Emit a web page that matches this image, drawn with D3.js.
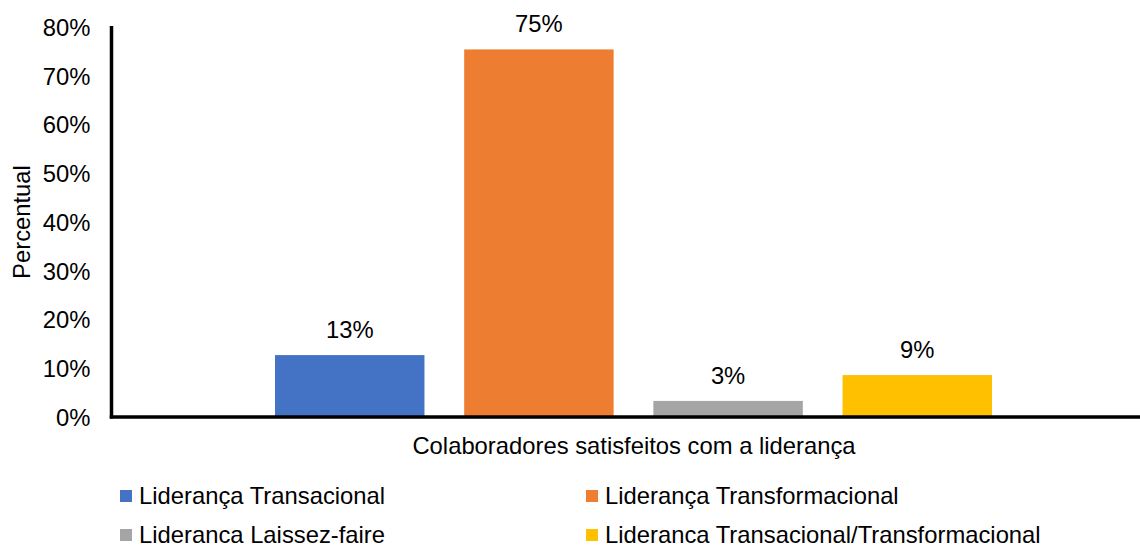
<!DOCTYPE html>
<html><head><meta charset="utf-8">
<script src="https://cdn.jsdelivr.net/npm/d3@7"></script>
<style>body{margin:0;background:#fff}svg{display:block;font-family:"Liberation Sans",Arial,sans-serif}</style>
</head><body><svg id="c" width="1140" height="549"></svg>
<script>
const series = ["Liderança Transacional","Liderança Transformacional","Lideranca Laissez-faire","Lideranca Transacional/Transformacional"];
const values = [0.127, 0.754, 0.033, 0.086];
const valueLabels = ["13%","75%","3%","9%"];
const colors = ["#4472C4","#ED7D31","#A5A5A5","#FFC000"];
const yTicks = [0,0.1,0.2,0.3,0.4,0.5,0.6,0.7,0.8];
const category = "Colaboradores satisfeitos com a liderança";
const yTitle = "Percentual";

const FS = 23.8;
const svg = d3.select("#c");
const y = d3.scaleLinear().domain([0,0.8]).range([417,27]);
const x = d3.scaleBand().domain(series).range([275,992]).paddingInner(0.21).paddingOuter(0);

svg.selectAll("rect.bar").data(series).join("rect").attr("class","bar")
  .attr("x",d=>x(d)).attr("width",x.bandwidth())
  .attr("y",(d,i)=>y(values[i])).attr("height",(d,i)=>y(0)-y(values[i]))
  .attr("fill",(d,i)=>colors[i]);

svg.selectAll("text.vl").data(series).join("text").attr("class","vl")
  .attr("x",d=>x(d)+x.bandwidth()/2).attr("y",(d,i)=>y(values[i])-17)
  .attr("text-anchor","middle").attr("font-size",FS).attr("fill","#000")
  .text((d,i)=>valueLabels[i]);

// y axis
const yAxis = d3.axisLeft(y).tickValues(yTicks).tickFormat(d3.format(".0%")).tickSize(0).tickPadding(21);
const ga = svg.append("g").attr("transform","translate(111.5,0)").call(yAxis);
ga.select(".domain").remove();
ga.selectAll("text").attr("font-size",FS).attr("font-family","Liberation Sans, Arial, sans-serif").attr("fill","#000").attr("dy","0.35em");
svg.append("line").attr("x1",111.5).attr("x2",111.5).attr("y1",26).attr("y2",y(0)+1.5).attr("stroke","#000").attr("stroke-width",3.5);
svg.append("line").attr("x1",109.75).attr("x2",1140).attr("y1",y(0)).attr("y2",y(0)).attr("stroke","#000").attr("stroke-width",3.5);

svg.append("text").attr("transform","translate(22,222) rotate(-90)").attr("text-anchor","middle")
  .attr("dy","0.35em").attr("font-size",FS).text(yTitle);
svg.append("text").attr("x",634).attr("y",446).attr("dy","0.35em").attr("text-anchor","middle").attr("font-size",FS).text(category);

// legend
const lpos = [[120,496],[586,496],[120,535],[586,535]];
const lg = svg.selectAll("g.lg").data(series).join("g").attr("class","lg")
  .attr("transform",(d,i)=>`translate(${lpos[i][0]},${lpos[i][1]})`);
lg.append("rect").attr("x",0).attr("y",-6).attr("width",12).attr("height",12).attr("fill",(d,i)=>colors[i]);
lg.append("text").attr("x",19).attr("y",0).attr("dy","0.35em").attr("font-size",FS).text(d=>d);
</script></body></html>
